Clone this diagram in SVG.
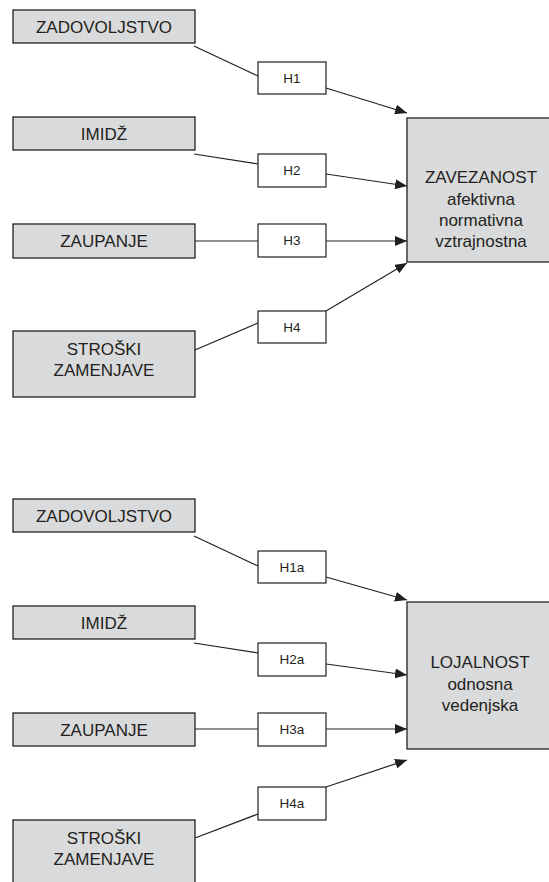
<svg xmlns="http://www.w3.org/2000/svg" width="549" height="882" viewBox="0 0 549 882">
<defs>
<marker id="ah" viewBox="0 0 12 10" refX="12" refY="5" markerWidth="12" markerHeight="10" markerUnits="userSpaceOnUse" orient="auto">
<path d="M0,0 L12,5 L0,10 Z" fill="#231f20"/>
</marker>
<style>
.g{fill:#d9dadb;stroke:#231f20;stroke-width:1.3}
.w{fill:#ffffff;stroke:#231f20;stroke-width:1.2}
.t{font-family:"Liberation Sans",Arial,sans-serif;font-size:17px;fill:#231f20;text-anchor:middle}
.h{font-family:"Liberation Sans",Arial,sans-serif;font-size:13.5px;fill:#231f20;text-anchor:middle}
.c{fill:none;stroke:#231f20;stroke-width:1.2}
</style>
</defs>
<rect width="549" height="882" fill="#ffffff"/>
<g id="connectors">
<line class="c" x1="194" y1="46" x2="258" y2="76"/>
<line class="c" x1="326" y1="88" x2="407" y2="113" marker-end="url(#ah)"/>
<line class="c" x1="194" y1="154" x2="258" y2="164"/>
<line class="c" x1="326" y1="174" x2="407" y2="186" marker-end="url(#ah)"/>
<line class="c" x1="194" y1="241" x2="258" y2="241"/>
<line class="c" x1="326" y1="241" x2="407" y2="241" marker-end="url(#ah)"/>
<line class="c" x1="195" y1="350" x2="258" y2="323"/>
<line class="c" x1="326" y1="311" x2="407" y2="263" marker-end="url(#ah)"/>
<line class="c" x1="194" y1="536" x2="258" y2="566"/>
<line class="c" x1="326" y1="577" x2="407" y2="600" marker-end="url(#ah)"/>
<line class="c" x1="194" y1="643" x2="258" y2="653"/>
<line class="c" x1="326" y1="664" x2="407" y2="675" marker-end="url(#ah)"/>
<line class="c" x1="194" y1="729" x2="258" y2="729"/>
<line class="c" x1="326" y1="729" x2="407" y2="729" marker-end="url(#ah)"/>
<line class="c" x1="195" y1="838" x2="258" y2="814"/>
<line class="c" x1="326" y1="787" x2="407" y2="760" marker-end="url(#ah)"/>
</g>
<g id="zadovoljstvo1"><rect class="g" x="13" y="10" width="182" height="33"/><text class="t" x="104" y="33">ZADOVOLJSTVO</text></g>
<g id="imidz1"><rect class="g" x="13" y="117" width="182" height="33"/><text class="t" x="104" y="140">IMIDŽ</text></g>
<g id="zaupanje1"><rect class="g" x="13" y="224" width="182" height="34"/><text class="t" x="104" y="247">ZAUPANJE</text></g>
<g id="stroski1"><rect class="g" x="13" y="331" width="182" height="66"/><text class="t" x="104" y="355">STROŠKI</text><text class="t" x="104" y="376">ZAMENJAVE</text></g>
<g id="h1"><rect class="w" x="258" y="62" width="68" height="32"/><text class="h" x="292" y="83">H1</text></g>
<g id="h2"><rect class="w" x="258" y="154" width="68" height="33"/><text class="h" x="292" y="175">H2</text></g>
<g id="h3"><rect class="w" x="258" y="224" width="68" height="33"/><text class="h" x="292" y="245">H3</text></g>
<g id="h4"><rect class="w" x="258" y="311" width="68" height="32"/><text class="h" x="292" y="332">H4</text></g>
<g id="zavezanost"><rect class="g" x="407" y="118" width="160" height="144"/><text class="t" x="481" y="183">ZAVEZANOST</text><text class="t" x="481" y="205">afektivna</text><text class="t" x="481" y="226">normativna</text><text class="t" x="481" y="247">vztrajnostna</text></g>
<g id="zadovoljstvo2"><rect class="g" x="13" y="499" width="182" height="33"/><text class="t" x="104" y="522">ZADOVOLJSTVO</text></g>
<g id="imidz2"><rect class="g" x="13" y="606" width="182" height="33"/><text class="t" x="104" y="629">IMIDŽ</text></g>
<g id="zaupanje2"><rect class="g" x="13" y="713" width="182" height="33"/><text class="t" x="104" y="736">ZAUPANJE</text></g>
<g id="stroski2"><rect class="g" x="13" y="820" width="182" height="70"/><text class="t" x="104" y="844">STROŠKI</text><text class="t" x="104" y="865">ZAMENJAVE</text></g>
<g id="h1a"><rect class="w" x="258" y="551" width="68" height="32"/><text class="h" x="292" y="572">H1a</text></g>
<g id="h2a"><rect class="w" x="258" y="643" width="68" height="33"/><text class="h" x="292" y="664">H2a</text></g>
<g id="h3a"><rect class="w" x="258" y="713" width="68" height="33"/><text class="h" x="292" y="734">H3a</text></g>
<g id="h4a"><rect class="w" x="258" y="787" width="68" height="33"/><text class="h" x="292" y="808">H4a</text></g>
<g id="lojalnost"><rect class="g" x="407" y="602" width="160" height="147"/><text class="t" x="480" y="668">LOJALNOST</text><text class="t" x="480" y="690">odnosna</text><text class="t" x="480" y="711">vedenjska</text></g>
</svg>
